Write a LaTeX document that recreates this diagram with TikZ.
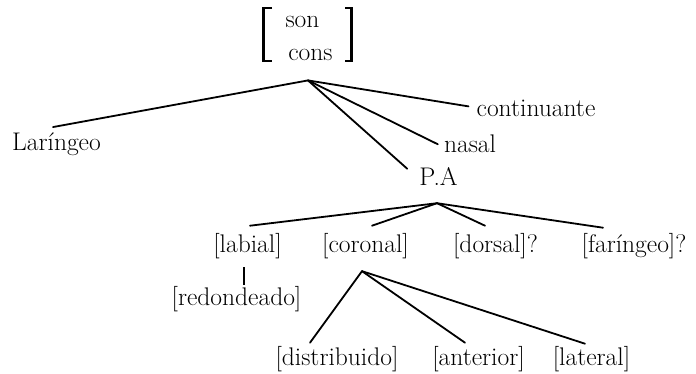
\documentclass[tikz,border=0pt]{standalone}
\usetikzlibrary{calc}
\begin{document}
\begin{tikzpicture}[x=1pt,y=-1pt,
  lbl/.style={inner sep=0pt,anchor=base,font=\fontsize{25.5}{30}\selectfont},
  branch/.style={line width=1.8pt,line cap=round},
  brack/.style={line width=2.4pt,line cap=butt,line join=miter}]
\useasboundingbox (0,0) rectangle (696,373);

% feature matrix at the root
\node[lbl] (son)  at (302.5,27) {son};
\node[lbl] (cons) at (310.5,60) {cons};
\draw[brack] (272,8.2) -- (263.5,8.2) -- (263.5,60.8) -- (272,60.8);
\draw[brack] (345,8.2) -- (351.5,8.2) -- (351.5,60.8) -- (345,60.8);
\draw[line width=1.2pt] (263.5,8) -- (263.5,61);
\draw[line width=1.2pt] (351.5,8) -- (351.5,61);
\coordinate (top) at ([shift={(-2.5,20)}]cons.south);

% first level
\node[lbl] (lar)  at (56.5,150)  {Laríngeo};
\node[lbl] (cont) at (536,116)   {continuante};
\node[lbl] (nas)  at (470,152)   {nasal};
\node[lbl] (pa)   at (438.5,185) {P.A};

\draw[branch] (top) -- ([shift={(-3.5,-5)}]lar.north);
\draw[branch] (top) -- ([shift={(-8,-1.5)}]cont.west);
\draw[branch] (top) -- ([shift={(-6,1)}]nas.west);
\draw[branch] (top) -- ([shift={(-12,2)}]pa.north west);

% place articulators
\coordinate (pat) at ([shift={(-1.5,18)}]pa.south);
\node[lbl] (lab) at (247.5,252) {[labial]};
\node[lbl] (cor) at (365.5,252) {[coronal]};
\node[lbl] (dor) at (495.5,252) {[dorsal]?};
\node[lbl] (far) at (634,252)   {[faríngeo]?};

\draw[branch] (pat) -- ([shift={(2.5,-7)}]lab.north);
\draw[branch] (pat) -- ([shift={(6.5,-7)}]cor.north);
\draw[branch] (pat) -- ([shift={(-10.5,-7)}]dor.north);
\draw[branch] (pat) -- ([shift={(-31,-5)}]far.north);

% labial dependent
\node[lbl] (red) at (236.5,305) {[redondeado]};
\draw[line width=1.4pt] ([shift={(-3.5,8.6)}]lab.south) -- ([shift={(7.5,-1)}]red.north);

% coronal dependents
\coordinate (cort) at ([shift={(-3.5,12.6)}]cor.south);
\node[lbl] (dis) at (337,365)   {[distribuido]};
\node[lbl] (ant) at (478.5,365) {[anterior]};
\node[lbl] (lat) at (591.5,365) {[lateral]};

\draw[branch] (cort) -- ([shift={(-27,-3)}]dis.north);
\draw[branch] (cort) -- ([shift={(-13.5,-3)}]ant.north);
\draw[branch] (cort) -- ([shift={(-6.5,-2)}]lat.north);
\end{tikzpicture}
\end{document}
